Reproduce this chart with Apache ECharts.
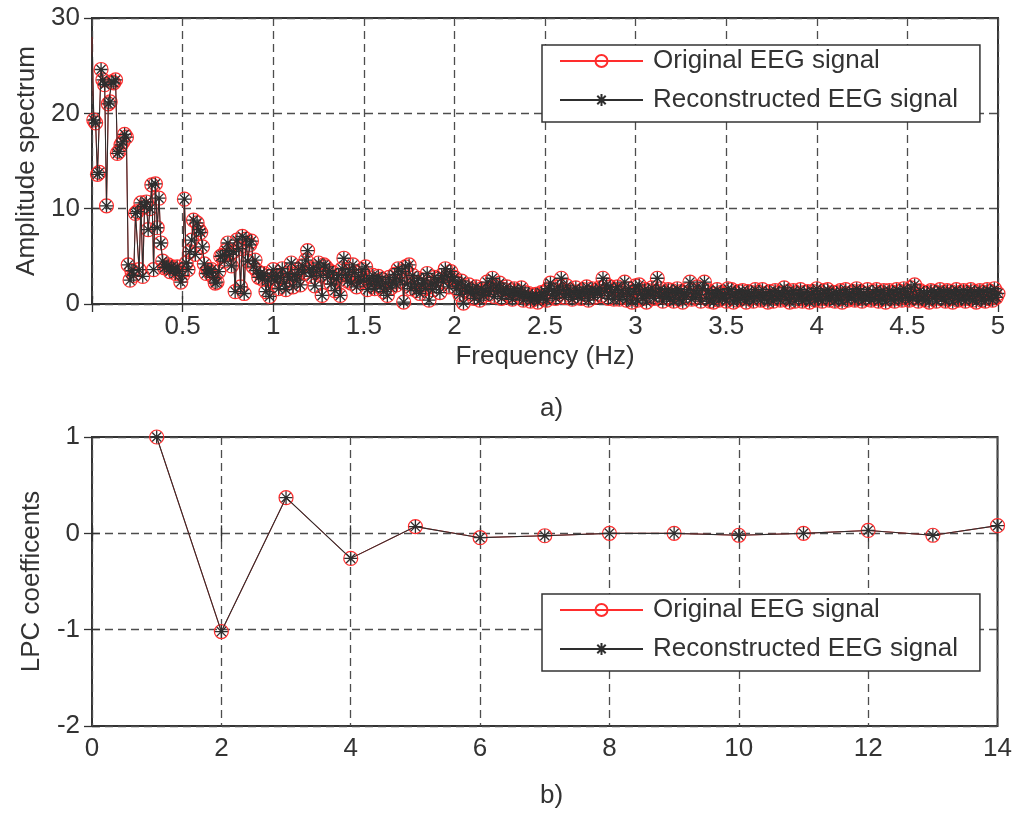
<!DOCTYPE html>
<html>
<head>
<meta charset="utf-8">
<script src="https://cdn.jsdelivr.net/npm/echarts@6/dist/echarts.min.js"></script>
<style>
  html, body { margin: 0; padding: 0; background: #ffffff; }
  #chart { width: 1015px; height: 814px; }
</style>
</head>
<body>
<div id="chart"></div>
<script>
// ---- a) amplitude spectrum, one value per 0.01 Hz bin from 0.00 to 5.00 Hz ----
const binWidthHz = 0.01;
const amplitudeOriginal = [
  28.0, 19.3, 19.0, 13.6, 13.8, 24.6, 23.5, 23.0, 10.3, 21.0,
  21.2, 23.3, 23.2, 23.5, 15.8, 16.0, 16.7, 17.0, 17.8, 17.5,
  4.1, 2.5, 3.5, 3.0, 9.5, 9.7, 3.6, 10.6, 2.9, 10.2,
  10.7, 7.8, 10.0, 12.5, 3.6, 12.6, 8.0, 11.1, 6.4, 4.5,
  3.8, 3.9, 4.1, 3.4, 3.9, 3.7, 3.2, 3.9, 3.4, 2.3,
  3.0, 11.0, 4.3, 3.6, 5.5, 6.7, 8.8, 5.2, 8.5, 7.8,
  7.5, 6.0, 4.2, 3.2, 3.6, 3.3, 3.6, 2.8, 2.2, 2.3,
  3.4, 5.0, 5.1, 4.5, 5.6, 6.4, 5.2, 4.0, 5.5, 1.3,
  6.7, 5.8, 1.8, 7.1, 1.1, 6.8, 4.5, 6.2, 6.6, 3.9,
  4.6, 3.5, 2.8, 3.2, 2.6, 3.2, 1.3, 2.5, 0.8, 2.9,
  3.6, 2.4, 3.0, 1.6, 2.8, 3.7, 2.2, 1.5, 3.2, 2.6,
  4.3, 1.8, 3.1, 2.5, 3.6, 2.0, 4.0, 3.3, 4.6, 5.6,
  3.6, 2.9, 3.8, 1.9, 3.4, 4.3, 3.0, 0.9, 4.1, 3.9,
  2.8, 3.5, 2.1, 3.3, 1.4, 2.6, 3.0, 0.9, 3.7, 4.8,
  3.1, 2.4, 3.6, 2.2, 4.1, 3.3, 1.8, 2.9, 2.3, 3.6,
  2.5, 3.9, 1.5, 2.7, 2.0, 3.0, 1.6, 2.4, 2.9, 1.8,
  2.6, 1.3, 2.2, 0.9, 2.8, 1.7, 2.3, 3.1, 2.0, 3.7,
  2.4, 3.4, 0.2, 3.9, 2.1, 4.1, 1.6, 3.0, 2.2, 1.4,
  2.7, 1.1, 2.0, 2.5, 1.6, 3.2, 0.4, 2.2, 1.5, 2.8,
  1.9, 2.6, 1.2, 3.0, 2.3, 3.7, 2.9, 1.8, 3.4, 2.5,
  2.8, 1.6, 2.2, 1.0, 2.4, 0.1, 1.8, 1.3, 2.0, 1.1,
  1.5, 0.6, 1.8, 1.2, 0.4, 1.6, 0.9, 1.4, 2.3, 1.0,
  1.7, 2.7, 0.8, 1.9, 1.3, 2.2, 0.6, 1.5, 1.1, 1.8,
  0.9, 1.4, 0.5, 1.6, 1.0, 1.3, 0.8, 1.7, 0.4, 1.2,
  0.7, 1.1, 0.3, 0.9, 0.5, 1.0, 0.2, 0.8, 1.2, 0.6,
  1.3, 0.4, 1.6, 2.2, 0.9, 1.4, 0.6, 1.8, 1.1, 2.7,
  1.5, 0.7, 1.9, 1.0, 1.4, 0.5, 1.2, 1.7, 0.8, 1.3,
  0.6, 1.5, 1.0, 1.8, 0.4, 1.2, 1.6, 0.7, 1.4, 1.1,
  1.7, 0.9, 2.7, 1.3, 2.0, 0.6, 1.8, 1.2, 0.5, 1.5,
  1.8, 0.5, 1.4, 0.8, 2.3, 0.4, 1.6, 1.0, 0.2, 1.3,
  1.9, 0.4, 2.0, 1.1, 0.6, 1.5, 0.2, 1.4, 0.9, 1.7,
  0.6, 1.3, 2.7, 0.8, 1.6, 0.3, 1.2, 0.7, 1.5, 0.5,
  1.4, 0.3, 1.1, 1.6, 0.5, 1.3, 0.2, 1.2, 0.8, 1.5,
  2.3, 0.5, 1.4, 0.7, 1.8, 1.0, 0.3, 1.6, 2.3, 0.6,
  1.4, 0.3, 1.1, 0.2, 1.0, 1.5, 0.4, 1.2, 0.6, 1.0,
  0.3, 1.6, 0.7, 1.5, 0.2, 1.1, 0.4, 1.3, 0.5, 1.4,
  0.8, 0.2, 1.3, 0.6, 1.2, 0.3, 1.5, 0.7, 1.2, 0.4,
  1.5, 0.5, 1.1, 0.2, 1.3, 0.8, 0.3, 1.4, 0.6, 1.2,
  0.4, 1.1, 1.7, 0.5, 1.3, 0.2, 1.0, 1.4, 0.3, 1.1,
  0.6, 1.5, 0.3, 1.2, 0.5, 1.3, 0.2, 1.0, 1.3, 0.4,
  1.6, 0.5, 1.1, 0.3, 1.4, 0.6, 1.5, 0.4, 1.0, 1.2,
  0.3, 1.2, 0.5, 1.4, 0.2, 1.0, 1.5, 0.4, 1.1, 0.6,
  1.3, 0.4, 1.6, 0.6, 1.3, 0.3, 1.1, 0.5, 1.5, 0.7,
  0.4, 1.3, 0.6, 1.5, 0.3, 1.2, 0.5, 1.4, 0.2, 1.0,
  1.4, 0.5, 1.2, 0.3, 1.5, 0.6, 1.3, 0.4, 1.6, 0.7,
  1.3, 0.4, 1.7, 0.6, 2.0, 0.8, 0.3, 1.4, 0.5, 1.2,
  0.4, 1.2, 0.2, 1.4, 0.6, 1.3, 0.3, 1.1, 1.5, 0.5,
  1.2, 0.3, 1.4, 0.6, 1.3, 0.2, 1.0, 1.5, 0.4, 1.2,
  0.5, 1.4, 0.3, 1.2, 0.6, 1.5, 0.4, 1.3, 0.2, 1.0,
  1.4, 0.4, 1.2, 0.3, 1.5, 0.6, 1.3, 0.4, 1.6, 0.7,
  1.1
];
// the reconstructed spectrum lies on top of the original at this scale
const amplitudeReconstructed = amplitudeOriginal;

// ---- b) LPC coefficients, orders 1..14 ----
const lpcOrder = [1, 2, 3, 4, 5, 6, 7, 8, 9, 10, 11, 12, 13, 14];
const lpcOriginal = [1.0, -1.02, 0.37, -0.26, 0.07, -0.045, -0.025, 0.0, 0.0, -0.02, 0.0, 0.03, -0.02, 0.08];
const lpcReconstructed = [1.0, -1.02, 0.37, -0.26, 0.07, -0.045, -0.025, 0.0, 0.0, -0.02, 0.0, 0.03, -0.02, 0.08];

const seriesNames = ['Original EEG signal', 'Reconstructed EEG signal'];
const freqTicks = { min: 0, max: 5, interval: 0.5 };
const ampTicks = { min: 0, max: 30, interval: 10 };
const orderTicks = { min: 0, max: 14, interval: 2 };
const coefTicks = { min: -2, max: 1, interval: 1 };

// ---- styling ----
const FONT = 'Liberation Sans, Arial, sans-serif';
const TEXT = '#333333';
const RED = '#ff2d2d';
const DARK = '#2e2e2e';
const FS = 26;
const ASTERISK = 'path://M0,5L10,5M5,0L5,10M1.5,1.5L8.5,8.5M8.5,1.5L1.5,8.5';

const gridDash = { type: [8, 5], color: '#4d4d4d', width: 1.3 };

function mainAxis(ticks, extra) {
  return Object.assign({
    type: 'value',
    min: ticks.min, max: ticks.max, interval: ticks.interval,
    axisLine: { show: false },
    axisTick: { show: true, inside: true, length: 8, lineStyle: { color: '#333', width: 1.3 } },
    axisLabel: { color: TEXT, fontSize: FS, fontFamily: FONT },
    splitLine: { show: true, lineStyle: gridDash },
    nameTextStyle: { color: TEXT, fontSize: FS, fontFamily: FONT }
  }, extra);
}
function mirrorAxis(ticks, gridIndex, position) {
  return {
    type: 'value', gridIndex, position,
    min: ticks.min, max: ticks.max, interval: ticks.interval,
    axisLine: { show: false },
    axisTick: { show: true, inside: true, length: 8, lineStyle: { color: '#333', width: 1.3 } },
    axisLabel: { show: false },
    splitLine: { show: false }
  };
}

function originalSeries(data, xi, yi) {
  return {
    name: seriesNames[0], type: 'line', xAxisIndex: xi, yAxisIndex: yi,
    data, symbol: 'circle', symbolSize: 14, animation: false,
    lineStyle: { color: RED, width: 1 },
    itemStyle: { color: 'rgba(255,255,255,0)', borderColor: RED, borderWidth: 1.2 },
    emphasis: { disabled: true }, z: 2
  };
}
function reconstructedSeries(data, xi, yi) {
  return {
    name: seriesNames[1], type: 'line', xAxisIndex: xi, yAxisIndex: yi,
    data, symbol: ASTERISK, symbolSize: 13, animation: false,
    lineStyle: { color: DARK, width: 1.1 },
    itemStyle: { color: DARK, borderColor: DARK, borderWidth: 1.3 },
    emphasis: { disabled: true }, z: 3
  };
}

const spectrumPoints = amps => amps.map((v, i) => {
  const p = { value: [i * binWidthHz, v] };
  if (i === 0) p.symbol = 'none';
  return p;
});
const lpcPoints = vals => vals.map((v, i) => [lpcOrder[i], v]);

const legendBase = {
  orient: 'vertical', left: 542,
  itemWidth: 83, itemHeight: 15, itemGap: 13,
  padding: [3, 22, 9, 17],
  borderColor: '#333', borderWidth: 1.5, backgroundColor: '#fff',
  textStyle: { color: TEXT, fontSize: FS, fontFamily: FONT, padding: [0, 0, 0, 5] },
  data: seriesNames, selectedMode: false
};

const chart = echarts.init(document.getElementById('chart'), null, { renderer: 'canvas' });
chart.setOption({
  backgroundColor: '#ffffff',
  animation: false,
  grid: [
    { left: 92, right: 17, top: 18, bottom: 510, show: true, borderColor: '#333', borderWidth: 2, backgroundColor: '#fff' },
    { left: 92, right: 17, top: 437, bottom: 88, show: true, borderColor: '#333', borderWidth: 2, backgroundColor: '#fff' }
  ],
  xAxis: [
    mainAxis(freqTicks, {
      gridIndex: 0, position: 'bottom', name: 'Frequency (Hz)', nameLocation: 'middle', nameGap: 40,
      axisLabel: { color: TEXT, fontSize: FS, fontFamily: FONT, margin: 10,
        formatter: v => (v === 0 ? '' : String(v)) }
    }),
    mainAxis(orderTicks, {
      gridIndex: 1, position: 'bottom',
      axisLabel: { color: TEXT, fontSize: FS, fontFamily: FONT, margin: 10 }
    }),
    mirrorAxis(freqTicks, 0, 'top'),
    mirrorAxis(orderTicks, 1, 'top')
  ],
  yAxis: [
    mainAxis(ampTicks, {
      gridIndex: 0, position: 'left', name: 'Amplitude spectrum', nameLocation: 'middle', nameGap: 52,
      axisLabel: { color: TEXT, fontSize: FS, fontFamily: FONT, margin: 12 }
    }),
    mainAxis(coefTicks, {
      gridIndex: 1, position: 'left', name: 'LPC coefficents', nameLocation: 'middle', nameGap: 47,
      axisLabel: { color: TEXT, fontSize: FS, fontFamily: FONT, margin: 12 }
    }),
    mirrorAxis(ampTicks, 0, 'right'),
    mirrorAxis(coefTicks, 1, 'right')
  ],
  legend: [
    Object.assign({}, legendBase, { top: 45 }),
    Object.assign({}, legendBase, { top: 594 })
  ],
  graphic: [
    { type: 'text', left: 540, top: 396, style: { text: 'a)', fill: TEXT, font: `${FS}px ${FONT}` } },
    { type: 'text', left: 540, top: 783, style: { text: 'b)', fill: TEXT, font: `${FS}px ${FONT}` } }
  ],
  series: [
    originalSeries(spectrumPoints(amplitudeOriginal), 0, 0),
    reconstructedSeries(spectrumPoints(amplitudeReconstructed), 0, 0),
    originalSeries(lpcPoints(lpcOriginal), 1, 1),
    reconstructedSeries(lpcPoints(lpcReconstructed), 1, 1)
  ]
});
</script>
</body>
</html>
